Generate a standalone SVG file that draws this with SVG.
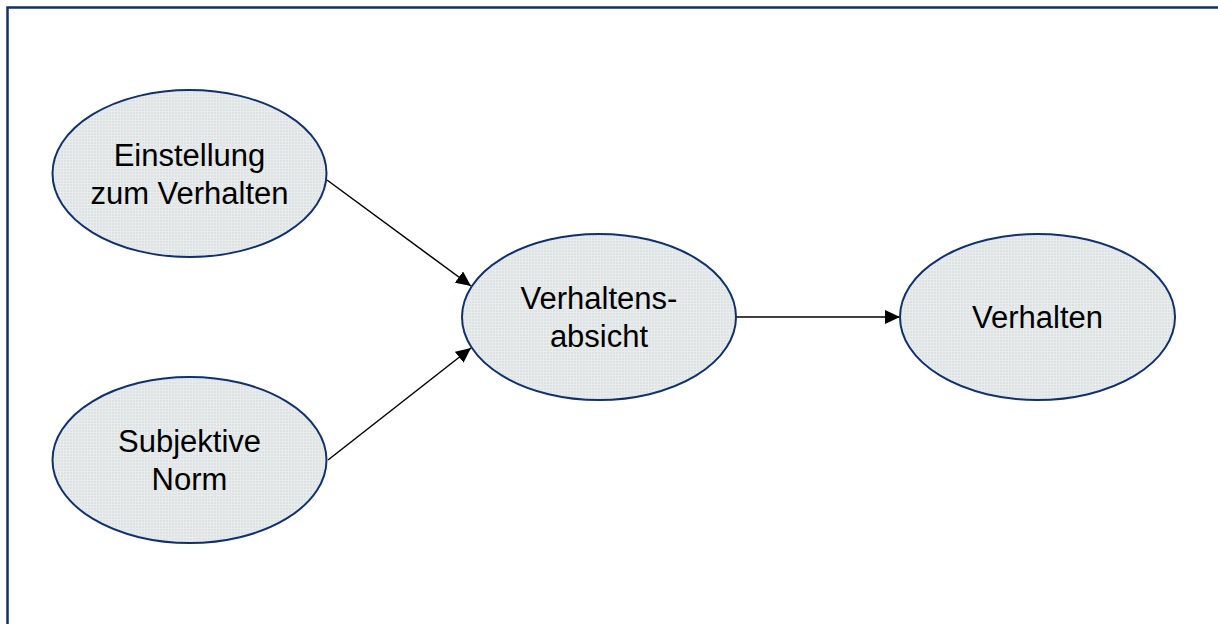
<svg xmlns="http://www.w3.org/2000/svg" width="1218" height="624" viewBox="0 0 1218 624">
  <defs>
    <!-- fine grid texture used as ellipse fill -->
    <pattern id="grid" width="3" height="3" patternUnits="userSpaceOnUse">
      <rect width="3" height="3" fill="#dde3e3"/>
      <path d="M0 0.5H3M0.5 0V3" stroke="#e9ecec" stroke-width="1"/>
    </pattern>
    <marker id="arrow" viewBox="0 0 15 14" refX="15" refY="7" markerWidth="15" markerHeight="14" markerUnits="userSpaceOnUse" orient="auto">
      <path d="M0 0L15 7L0 14z" fill="#000"/>
    </marker>
  </defs>
  <style>
    .node ellipse { fill: url(#grid); stroke: #10316f; stroke-width: 2; }
    .node text { font-family: "Liberation Sans", Arial, sans-serif; font-size: 31px; fill: #000; text-anchor: middle; }
    .edge { stroke: #000; stroke-width: 1.5; fill: none; marker-end: url(#arrow); }
    .frame { stroke: #10316f; stroke-width: 2.5; fill: none; }
  </style>

  <rect width="1218" height="624" fill="#fff"/>
  <!-- open frame: top and left border -->
  <path class="frame" d="M7.5 624V7.5H1218"/>

  <g id="connectors">
    <line class="edge" x1="327" y1="180" x2="471" y2="286"/>
    <line class="edge" x1="328" y1="460" x2="471" y2="348"/>
    <line class="edge" x1="736" y1="317" x2="900" y2="317"/>
  </g>

  <g id="einstellung" class="node">
    <ellipse cx="189.5" cy="173.5" rx="137" ry="83.5"/>
    <text x="189.5" y="166">Einstellung</text>
    <text x="189.5" y="204">zum Verhalten</text>
  </g>

  <g id="subjektive-norm" class="node">
    <ellipse cx="189.5" cy="460" rx="137" ry="83"/>
    <text x="189.5" y="452">Subjektive</text>
    <text x="189.5" y="490">Norm</text>
  </g>

  <g id="verhaltensabsicht" class="node">
    <ellipse cx="599" cy="317" rx="137" ry="83"/>
    <text x="599" y="309">Verhaltens-</text>
    <text x="599" y="347">absicht</text>
  </g>

  <g id="verhalten" class="node">
    <ellipse cx="1037.5" cy="317" rx="137.5" ry="83"/>
    <text x="1037.5" y="328">Verhalten</text>
  </g>
</svg>
